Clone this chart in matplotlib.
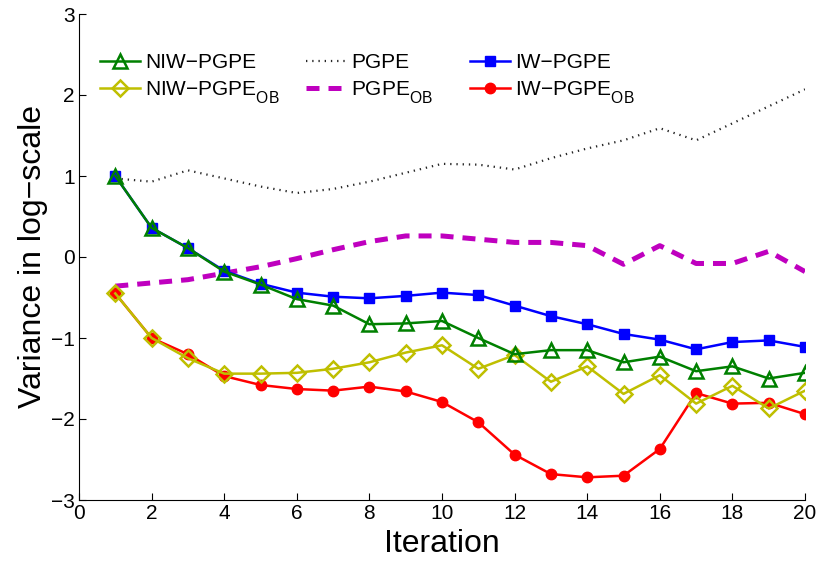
import matplotlib
matplotlib.use("Agg")
import matplotlib.pyplot as plt
import matplotlib._mathtext as _mt

plt.rcParams['font.family'] = ['Liberation Sans', 'DejaVu Sans']
plt.rcParams['mathtext.fontset'] = 'custom'
plt.rcParams['mathtext.rm'] = 'Liberation Sans'
plt.rcParams['mathtext.it'] = 'Liberation Sans'

# larger, lower subscripts, MATLAB-style
_mt.SHRINK_FACTOR = 0.75
_mt.FontConstantsBase.sub1 = 0.75
_mt.FontConstantsBase.subdrop = 0.75

iterations = list(range(1, 21))

niw_pgpe = [1.00, 0.36, 0.11, -0.18, -0.34, -0.52, -0.60, -0.83, -0.82, -0.79,
            -1.00, -1.20, -1.15, -1.15, -1.30, -1.23, -1.41, -1.35, -1.50, -1.43]
niw_pgpe_ob = [-0.45, -1.00, -1.25, -1.44, -1.44, -1.43, -1.38, -1.30, -1.18, -1.09,
               -1.38, -1.21, -1.54, -1.35, -1.69, -1.46, -1.81, -1.59, -1.87, -1.65]
pgpe = [0.97, 0.93, 1.07, 0.97, 0.87, 0.79, 0.84, 0.93, 1.04, 1.15,
        1.14, 1.08, 1.22, 1.34, 1.44, 1.59, 1.44, 1.65, 1.86, 2.07]
pgpe_ob = [-0.36, -0.32, -0.28, -0.20, -0.12, -0.02, 0.09, 0.19, 0.26, 0.26,
           0.22, 0.18, 0.18, 0.14, -0.09, 0.14, -0.08, -0.08, 0.07, -0.18]
iw_pgpe = [1.00, 0.36, 0.11, -0.17, -0.33, -0.44, -0.49, -0.51, -0.48, -0.44,
           -0.47, -0.60, -0.73, -0.83, -0.95, -1.02, -1.14, -1.05, -1.03, -1.11]
iw_pgpe_ob = [-0.45, -1.00, -1.20, -1.47, -1.58, -1.63, -1.65, -1.60, -1.66, -1.79,
              -2.04, -2.44, -2.68, -2.72, -2.70, -2.37, -1.68, -1.81, -1.80, -1.94]

x_ticks = list(range(0, 21, 2))
y_ticks = list(range(-3, 4))

W, H = 818, 564
fig = plt.figure(figsize=(W / 100, H / 100), dpi=100)
ax_left, ax_right, ax_top, ax_bottom = 79, 805, 14, 500
ax = fig.add_axes([ax_left / W, 1 - ax_bottom / H,
                   (ax_right - ax_left) / W, (ax_bottom - ax_top) / H])

h_pgpe, = ax.plot(iterations, pgpe, color='0.15', linestyle=(0, (0.6, 2.2)),
                  linewidth=1.6, label='PGPE')
h_pgpe_ob, = ax.plot(iterations, pgpe_ob, color='#BF00BF', linestyle=(0, (2.6, 1.8)),
                     linewidth=3.6, label='PGPE$_{\\mathrm{OB}}$')
h_iw_ob, = ax.plot(iterations, iw_pgpe_ob, color='#FF0000', linewidth=1.8,
                   marker='o', markersize=7.5, markerfacecolor='#FF0000',
                   markeredgecolor='#FF0000', label='IW\u2212PGPE$_{\\mathrm{OB}}$')
h_iw, = ax.plot(iterations, iw_pgpe, color='#0000FF', linewidth=1.8,
                marker='s', markersize=7, markerfacecolor='#0000FF',
                markeredgecolor='#0000FF', label='IW\u2212PGPE')
h_niw_ob, = ax.plot(iterations, niw_pgpe_ob, color='#BFBF00', linewidth=1.8,
                    marker='D', markersize=8, markerfacecolor='none',
                    markeredgewidth=1.8, markeredgecolor='#BFBF00',
                    label='NIW\u2212PGPE$_{\\mathrm{OB}}$')
h_niw, = ax.plot(iterations, niw_pgpe, color='#008000', linewidth=1.8,
                 marker='^', markersize=10, markerfacecolor='none',
                 markeredgewidth=1.8, markeredgecolor='#008000',
                 label='NIW\u2212PGPE')

ax.set_xlim(0, 20)
ax.set_ylim(-3, 3)
ax.set_xticks(x_ticks)
ax.set_yticks(y_ticks)
ax.tick_params(direction='in', length=5, width=0.8, labelsize=15, pad=3)
ax.spines['top'].set_visible(False)
ax.spines['right'].set_visible(False)
ax.set_xlabel('Iteration', fontsize=23, labelpad=4)
ax.set_ylabel('Variance in log\u2212scale', fontsize=23, labelpad=2)

# three legend columns, each placed at its own left edge (pixels)
columns = [([h_niw, h_niw_ob], 100), ([h_pgpe, h_pgpe_ob], 306), ([h_iw, h_iw_ob], 470)]
legend_top = 53
for i, (handles, x_px) in enumerate(columns):
    leg = ax.legend(handles=handles, loc='upper left',
                    bbox_to_anchor=((x_px - ax_left) / (ax_right - ax_left),
                                    (ax_bottom - legend_top) / (ax_bottom - ax_top)),
                    frameon=False, fontsize=15, handlelength=1.9, handletextpad=0.25,
                    labelspacing=0.35, borderaxespad=0, borderpad=0)
    if i < len(columns) - 1:
        ax.add_artist(leg)

fig.savefig('out.png', dpi=100)
